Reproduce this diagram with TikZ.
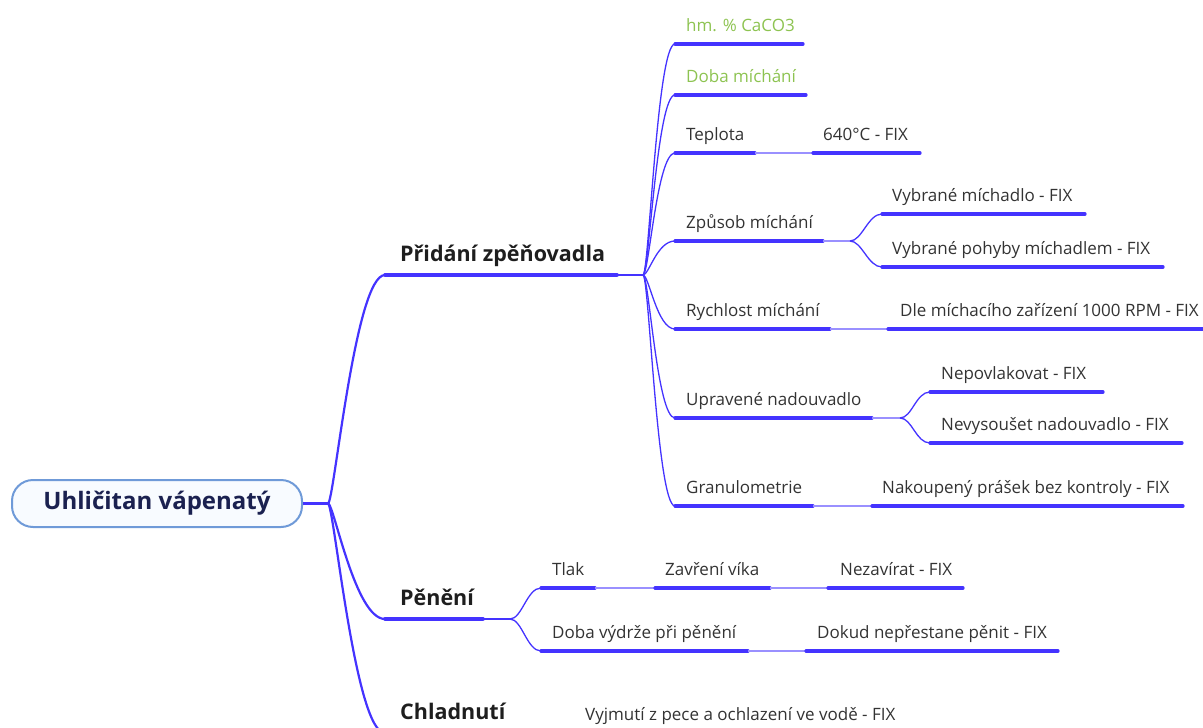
\documentclass[tikz,border=0pt]{standalone}
\usepackage{fontspec}
\setmainfont{Open Sans}
\begin{document}
\definecolor{linecol}{HTML}{4433FF}
\definecolor{linklight}{HTML}{9A90FF}
\definecolor{greentxt}{HTML}{8DC351}
\definecolor{graytxt}{HTML}{333333}
\definecolor{boldtxt}{HTML}{1E1E1E}
\definecolor{rootborder}{HTML}{6F9AD8}
\definecolor{rootfill}{HTML}{F8FBFF}
\definecolor{roottxt}{HTML}{1B2150}
\begin{tikzpicture}[x=1pt,y=-1pt,
  rootbox/.style={draw=rootborder, line width=2pt, fill=rootfill, rounded corners=21pt,
    minimum width=290pt, minimum height=47pt, inner sep=0pt, text=roottxt,
    font=\fontsize{24}{28}\selectfont\bfseries},
  maintxt/.style={anchor=base west, inner sep=0pt, text=boldtxt,
    font=\fontsize{21.5}{25}\selectfont\bfseries},
  subtxt/.style={anchor=base west, inner sep=0pt, text=graytxt,
    font=\fontsize{17}{20}\selectfont},
  greenlbl/.style={subtxt, text=greentxt},
  mainline/.style={draw=linecol, line width=3.6pt, line cap=round},
  subline/.style={draw=linecol, line width=3.2pt, line cap=round},
  link/.style={draw=linklight, line width=1.3pt},
  hubline/.style={draw=linecol, line width=1.3pt},
  rootcurve/.style={draw=linecol, line width=2.2pt,
    to path={.. controls +(6,0) and +(-30,0) .. (\tikztotarget)}},
  fancurve/.style={draw=linecol, line width=1.3pt,
    to path={.. controls +(6,0) and +(-18,0) .. (\tikztotarget)}},
  forkcurve/.style={draw=linecol, line width=1.3pt,
    to path={.. controls +(12,0) and +(-14,0) .. (\tikztotarget)}}
]
\clip (0,0) rectangle (1203,728);

% root topic
\node[rootbox] (root) at (157,503.5) {Uhličitan vápenatý};
\coordinate (rh) at (328,503.5);
\draw[draw=linecol, line width=2.2pt] (root.east) -- (rh);

% underline anchors
\coordinate (As) at (385,275);  \coordinate (Ae) at (617,275);  \coordinate (Ah) at (643,275);
\coordinate (A1s) at (675,44);  \coordinate (A1e) at (803,44);
\coordinate (A2s) at (675,95);  \coordinate (A2e) at (806,95);
\coordinate (A3s) at (675,153); \coordinate (A3e) at (755,153);
\coordinate (A3as) at (813,153); \coordinate (A3ae) at (920,153);
\coordinate (A4s) at (675,241); \coordinate (A4e) at (823,241); \coordinate (A4h) at (850,241);
\coordinate (A4as) at (882,214); \coordinate (A4ae) at (1085,214);
\coordinate (A4bs) at (882,267); \coordinate (A4be) at (1163,267);
\coordinate (A5s) at (675,329); \coordinate (A5e) at (830,329);
\coordinate (A5as) at (888,329); \coordinate (A5ae) at (1210,329);
\coordinate (A6s) at (675,418); \coordinate (A6e) at (872,418); \coordinate (A6h) at (900,418);
\coordinate (A6as) at (930,392); \coordinate (A6ae) at (1103,392);
\coordinate (A6bs) at (930,443); \coordinate (A6be) at (1182,443);
\coordinate (A7s) at (675,506); \coordinate (A7e) at (813,506);
\coordinate (A7as) at (872,506); \coordinate (A7ae) at (1183,506);

\coordinate (Bs) at (385,619);  \coordinate (Be) at (483,619);  \coordinate (Bh) at (510,619);
\coordinate (B1s) at (541,588); \coordinate (B1e) at (595,588);
\coordinate (B1as) at (655,588); \coordinate (B1ae) at (770,588);
\coordinate (B1bs) at (828,588); \coordinate (B1be) at (963,588);
\coordinate (B2s) at (541,651); \coordinate (B2e) at (748,651);
\coordinate (B2as) at (806,651); \coordinate (B2ae) at (1058,651);

\coordinate (Cs) at (385,733);  \coordinate (Ce) at (515,733);
\coordinate (C1s) at (575,733); \coordinate (C1e) at (905,733);

% branches leaving the root
\draw[rootcurve] (rh) to (As);
\draw[rootcurve] (rh) to (Bs);
\draw[rootcurve] (rh) to (Cs);

% Přidání zpěňovadla
\draw[mainline] (As) -- (Ae);
\draw[hubline] (Ae) -- (Ah);
\node[maintxt] (A) at (400,261) {Přidání zpěňovadla};
\foreach \t in {A1s,A2s,A3s,A4s,A5s,A6s,A7s} \draw[fancurve] (Ah) to (\t);

\draw[subline] (A1s) -- (A1e);
\node[greenlbl] (A1) at (686,31) {hm. \% CaCO3};
\draw[subline] (A2s) -- (A2e);
\node[greenlbl] (A2) at (686,82) {Doba míchání};

\draw[subline] (A3s) -- (A3e);
\node[subtxt] (A3) at (686,140) {Teplota};
\draw[link] (A3e) -- (A3as);
\draw[subline] (A3as) -- (A3ae);
\node[subtxt] (A3a) at (823,140) {640°C - FIX};

\draw[subline] (A4s) -- (A4e);
\node[subtxt] (A4) at (686,228) {Způsob míchání};
\draw[link] (A4e) -- (A4h);
\draw[forkcurve] (A4h) to (A4as);
\draw[forkcurve] (A4h) to (A4bs);
\draw[subline] (A4as) -- (A4ae);
\node[subtxt] (A4a) at (892,201) {Vybrané míchadlo - FIX};
\draw[subline] (A4bs) -- (A4be);
\node[subtxt] (A4b) at (892,254) {Vybrané pohyby míchadlem - FIX};

\draw[subline] (A5s) -- (A5e);
\node[subtxt] (A5) at (686,316) {Rychlost míchání};
\draw[link] (A5e) -- (A5as);
\draw[subline] (A5as) -- (A5ae);
\node[subtxt] (A5a) at (900,316) {Dle míchacího zařízení 1000 RPM - FIX};

\draw[subline] (A6s) -- (A6e);
\node[subtxt] (A6) at (686,405) {Upravené nadouvadlo};
\draw[link] (A6e) -- (A6h);
\draw[forkcurve] (A6h) to (A6as);
\draw[forkcurve] (A6h) to (A6bs);
\draw[subline] (A6as) -- (A6ae);
\node[subtxt] (A6a) at (941,379) {Nepovlakovat - FIX};
\draw[subline] (A6bs) -- (A6be);
\node[subtxt] (A6b) at (941,430) {Nevysoušet nadouvadlo - FIX};

\draw[subline] (A7s) -- (A7e);
\node[subtxt] (A7) at (686,493) {Granulometrie};
\draw[link] (A7e) -- (A7as);
\draw[subline] (A7as) -- (A7ae);
\node[subtxt] (A7a) at (882,493) {Nakoupený prášek bez kontroly - FIX};

% Pěnění
\draw[mainline] (Bs) -- (Be);
\draw[hubline] (Be) -- (Bh);
\node[maintxt] (B) at (400,605) {Pěnění};
\draw[forkcurve] (Bh) to (B1s);
\draw[forkcurve] (Bh) to (B2s);

\draw[subline] (B1s) -- (B1e);
\node[subtxt] (B1) at (552,575) {Tlak};
\draw[link] (B1e) -- (B1as);
\draw[subline] (B1as) -- (B1ae);
\node[subtxt] (B1a) at (665,575) {Zavření víka};
\draw[link] (B1ae) -- (B1bs);
\draw[subline] (B1bs) -- (B1be);
\node[subtxt] (B1b) at (840,575) {Nezavírat - FIX};

\draw[subline] (B2s) -- (B2e);
\node[subtxt] (B2) at (552,638) {Doba výdrže při pěnění};
\draw[link] (B2e) -- (B2as);
\draw[subline] (B2as) -- (B2ae);
\node[subtxt] (B2a) at (817,638) {Dokud nepřestane pěnit - FIX};

% Chladnutí
\draw[mainline] (Cs) -- (Ce);
\node[maintxt] (C) at (400,719) {Chladnutí};
\draw[link] (Ce) -- (C1s);
\draw[subline] (C1s) -- (C1e);
\node[subtxt] (C1) at (585,720) {Vyjmutí z pece a ochlazení ve vodě - FIX};
\end{tikzpicture}
\end{document}
